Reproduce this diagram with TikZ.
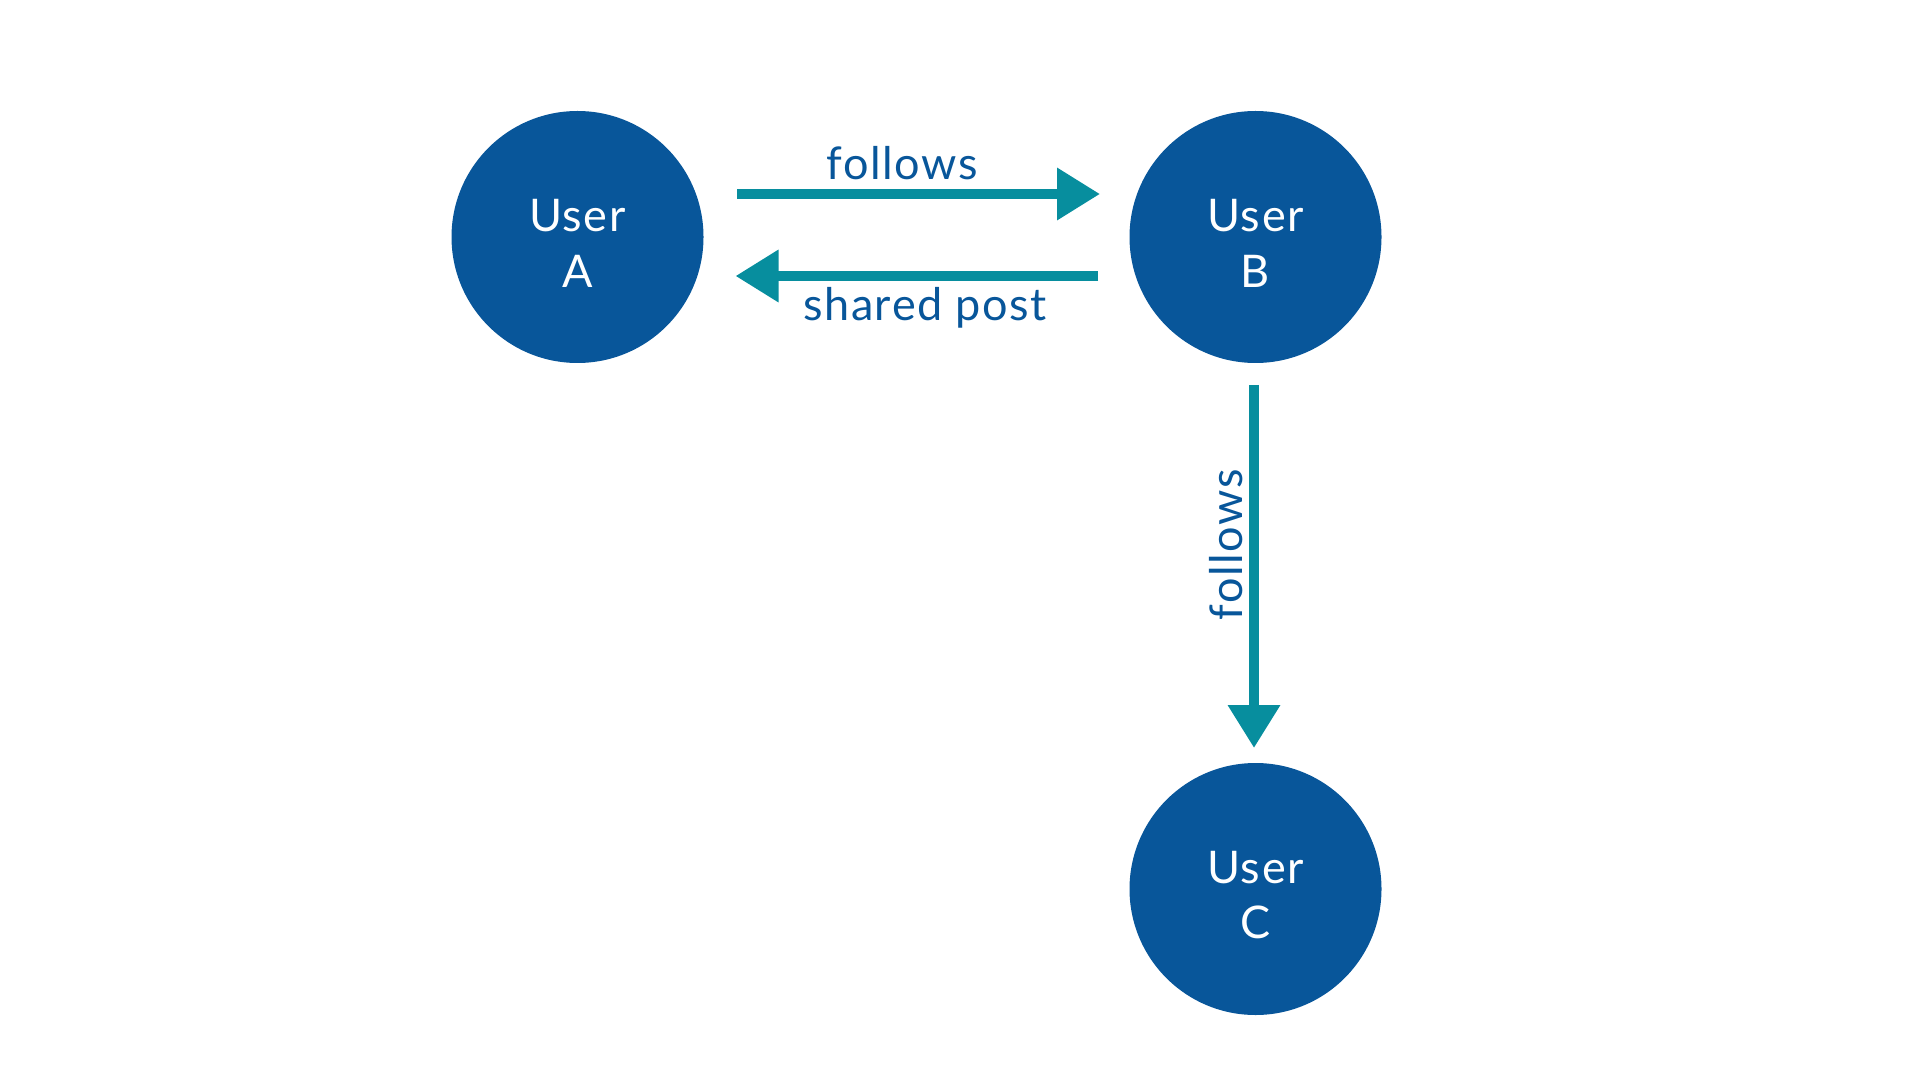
\documentclass[tikz,border=0pt]{standalone}
\usepackage{fontspec}
\setmainfont{Lato}[LetterSpace=3.5]
\usetikzlibrary{arrows.meta}
\definecolor{nodeblue}{HTML}{08569A}
\definecolor{teal}{HTML}{078E9E}
\tikzset{
  user/.style={circle, fill=nodeblue, inner sep=0pt, minimum size=2.52cm},
  usertext/.style={text=white, align=center, inner sep=0pt, yshift=-0.06cm,
    font=\fontsize{12.8pt}{15.9pt}\selectfont},
  rel/.style={draw=teal, line width=1mm, -{Triangle[length=4.3mm,width=5mm]}},
  lbl/.style={text=nodeblue, font=\fontsize{12.8pt}{15pt}\selectfont, inner sep=0pt, anchor=base},
}
\begin{document}
\begin{tikzpicture}[x=1cm,y=1cm]
\useasboundingbox (0,0) rectangle (19.2,-10.8);
\node[user] (A) at (5.775,-2.37) {};
\node[user] (B) at (12.555,-2.37) {};
\node[user] (C) at (12.555,-8.89) {};
\node[usertext] (At) at (A) {User\\A};
\node[usertext] (Bt) at (B) {User\\B};
\node[usertext] (Ct) at (C) {User\\C};
\coordinate (f1s) at (7.37,-1.94);
\coordinate (f1e) at (11.00,-1.94);
\coordinate (sps) at (10.98,-2.76);
\coordinate (spe) at (7.355,-2.76);
\coordinate (f2s) at (12.54,-3.85);
\coordinate (f2e) at (12.54,-7.48);
\draw[rel] (f1s) -- (f1e);
\draw[rel] (sps) -- (spe);
\draw[rel] (f2s) -- (f2e);
\node[lbl] (l1) at (9.02,-1.80) {follows};
\node[lbl] (l2) at (9.25,-3.207) {shared post};
\node[lbl, rotate=90] (l3) at (12.42,-5.45) {follows};
\end{tikzpicture}
\end{document}
